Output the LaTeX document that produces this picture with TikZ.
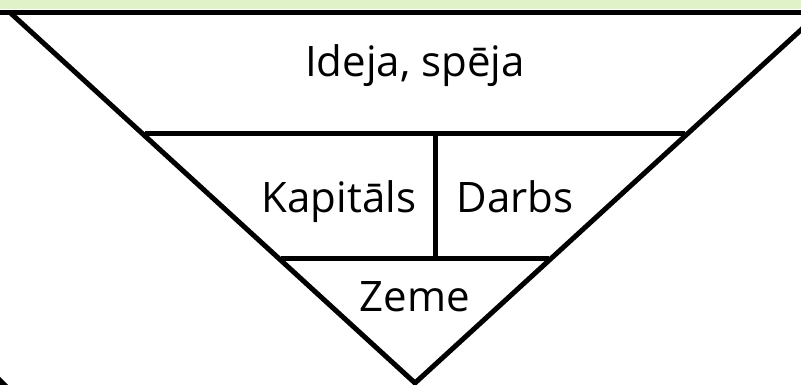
\documentclass[tikz,border=0pt]{standalone}
\usepackage{fontspec}
\setmainfont{Open Sans}
\definecolor{bandgreen}{HTML}{DFF2C8}
\begin{document}
\begin{tikzpicture}[x=1pt,y=1pt,
  edge/.style={line width=5pt, line cap=butt},
  lbl/.style={font=\fontsize{42}{50}\selectfont, inner sep=0pt, anchor=base}]
\useasboundingbox (0,0) rectangle (801,385);
\fill[bandgreen] (0,376) rectangle (801,385);
% key points
\coordinate (TL) at (10,372.5);
\coordinate (apex) at (415,2);
\coordinate (TR) at (820,372.5);
\coordinate (L2) at (145,251);
\coordinate (R2) at (685,251);
\coordinate (L3) at (281,126);
\coordinate (R3) at (549,126);
\coordinate (V2) at (435,251);
\coordinate (V3) at (435,126);
\draw[edge] (0,372.5) -- (801,372.5);
\draw[edge, line join=miter] (TL) -- (apex) -- (TR);
\draw[edge] (L2) -- (R2);
\draw[edge] (L3) -- (R3);
\draw[edge] (V2) -- (V3);
\fill[black] (0,8) -- (0,0) -- (8,0) -- cycle;
\node[lbl] (idea) at (415,308) {Ideja, spēja};
\node[lbl] (kap) at (339,172) {Kapitāls};
\node[lbl] (darbs) at (515,172) {Darbs};
\node[lbl] (zeme) at (415,73) {Zeme};
\end{tikzpicture}
\end{document}
